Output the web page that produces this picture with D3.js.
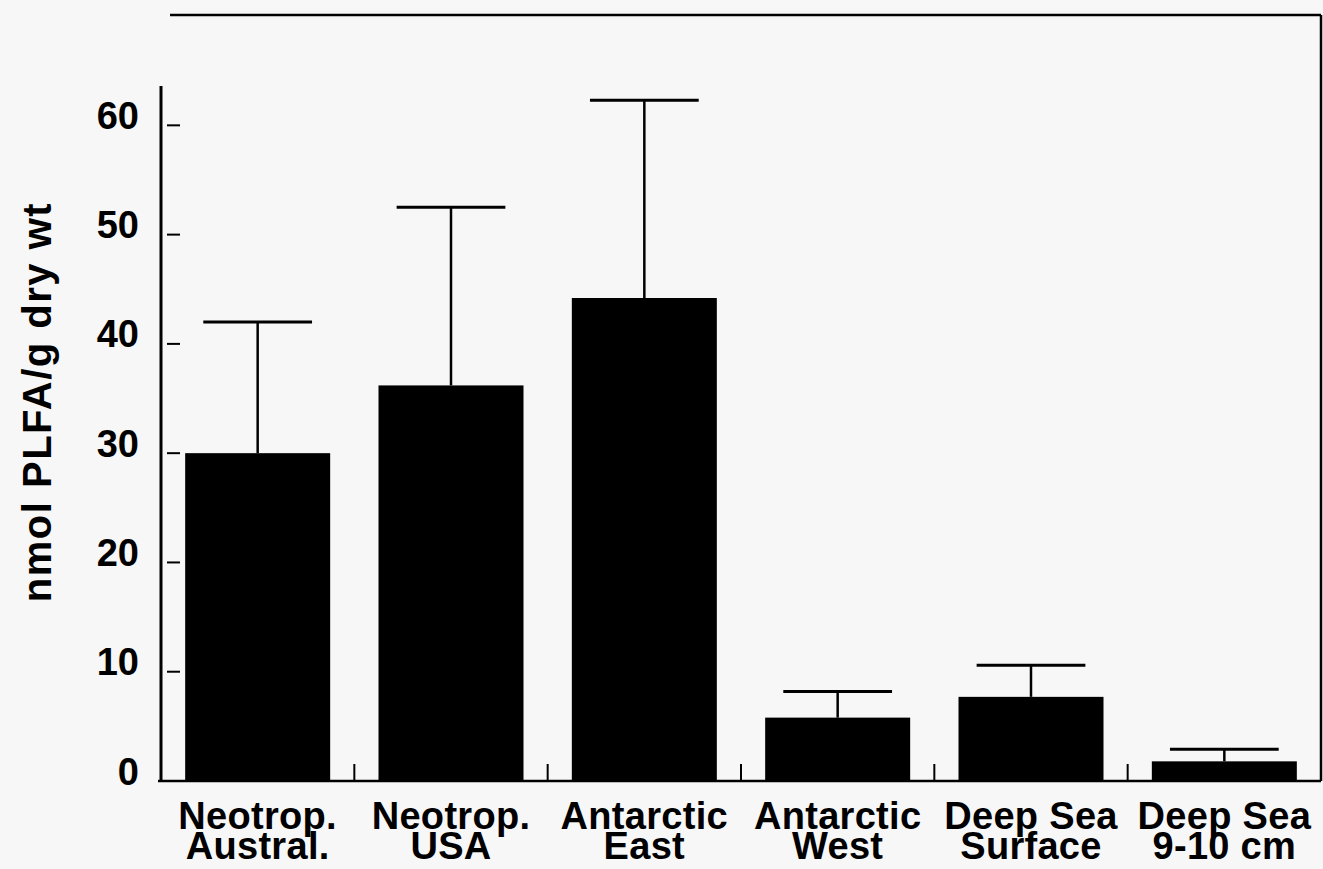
<!DOCTYPE html>
<html lang="en">
    <head>
        <meta charset="utf-8">
        <title>PLFA biomass</title>
        <script src="https://cdn.jsdelivr.net/npm/d3@7"></script>
        <style>
            body { margin: 0; background-color: #f7f7f7; }
            text { font-family: "Liberation Sans", Arial, sans-serif; font-weight: bold; fill: #000; }
        </style>
    </head>
    <body>
        <script type="text/javascript">
            // data
            var categories = ["Neotrop.|Austral.", "Neotrop.|USA", "Antarctic|East",
                              "Antarctic|West", "Deep Sea|Surface", "Deep Sea|9-10 cm"];
            var means = [30.0, 36.2, 44.2, 5.8, 7.7, 1.8];
            var upper = [42.0, 52.5, 62.3, 8.2, 10.6, 2.9];   // top of error bar
            var yTicks = [0, 10, 20, 30, 40, 50, 60];
            var yLabel = "nmol PLFA/g dry wt";

            var w = 1323, h = 869;
            var left = 161, right = 1321, bottom = 781, axisTop = 86, frameTop = 15;

            var svg = d3.select("body").append("svg").attr("width", w).attr("height", h);

            var x = d3.scaleBand()
                .domain(categories)
                .range([left, right])
                .paddingInner(0.25)
                .paddingOuter(0.125);

            var y = d3.scaleLinear()
                .domain([0, 63.6])
                .range([bottom, axisTop]);

            var data = categories.map(function(c, i){
                return {cat: c, mean: means[i], up: upper[i]};
            });

            // bars
            svg.selectAll("rect.bar")
                .data(data)
                .enter()
                .append("rect")
                .attr("class", "bar")
                .attr("x", function(d){ return x(d.cat); })
                .attr("y", function(d){ return y(d.mean); })
                .attr("width", x.bandwidth())
                .attr("height", function(d){ return y(0) - y(d.mean); })
                .attr("fill", "#000");

            // error bars: stem + cap
            var err = svg.selectAll("g.err").data(data).enter().append("g").attr("class", "err");
            err.append("line")
                .attr("x1", function(d){ return x(d.cat) + x.bandwidth()/2; })
                .attr("x2", function(d){ return x(d.cat) + x.bandwidth()/2; })
                .attr("y1", function(d){ return y(d.mean); })
                .attr("y2", function(d){ return y(d.up); })
                .attr("stroke", "#000").attr("stroke-width", 2.5);
            err.append("line")
                .attr("x1", function(d){ return x(d.cat) + x.bandwidth()*0.125; })
                .attr("x2", function(d){ return x(d.cat) + x.bandwidth()*0.875; })
                .attr("y1", function(d){ return y(d.up); })
                .attr("y2", function(d){ return y(d.up); })
                .attr("stroke", "#000").attr("stroke-width", 3);

            // frame: top line, right side, baseline
            svg.append("line").attr("x1", 170).attr("x2", right).attr("y1", frameTop).attr("y2", frameTop)
                .attr("stroke", "#000").attr("stroke-width", 2.5);
            svg.append("line").attr("x1", right).attr("x2", right).attr("y1", frameTop).attr("y2", bottom)
                .attr("stroke", "#000").attr("stroke-width", 2.5);
            svg.append("line").attr("x1", left - 3).attr("x2", right).attr("y1", bottom).attr("y2", bottom)
                .attr("stroke", "#000").attr("stroke-width", 2.5);

            // y axis, labels only; tick marks drawn inside, detached from the line
            var yAxis = d3.axisLeft(y).tickValues(yTicks).tickSize(0).tickPadding(22);
            var gy = svg.append("g").attr("transform", "translate(" + left + ",0)").call(yAxis);
            gy.select(".domain").remove();
            svg.append("line").attr("x1", left).attr("x2", left).attr("y1", axisTop).attr("y2", bottom)
                .attr("stroke", "#000").attr("stroke-width", 3);
            gy.selectAll("text")
                .attr("font-size", 38)
                .attr("font-family", "Liberation Sans, Arial, sans-serif")
                .attr("font-weight", "bold")
                .attr("dy", "0.08em");

            svg.selectAll("line.ytick")
                .data(yTicks.filter(function(v){ return v > 0; }))
                .enter()
                .append("line")
                .attr("class", "ytick")
                .attr("x1", left + 6).attr("x2", left + 19)
                .attr("y1", function(d){ return y(d); })
                .attr("y2", function(d){ return y(d); })
                .attr("stroke", "#000").attr("stroke-width", 2);

            // separator ticks between categories on the baseline
            var half = x.step() * x.paddingInner() / 2;
            svg.selectAll("line.xtick")
                .data(categories.slice(0, -1))
                .enter()
                .append("line")
                .attr("class", "xtick")
                .attr("x1", function(d){ return x(d) + x.bandwidth() + half; })
                .attr("x2", function(d){ return x(d) + x.bandwidth() + half; })
                .attr("y1", bottom).attr("y2", bottom - 17)
                .attr("stroke", "#000").attr("stroke-width", 2);

            // category labels, two tightly set lines
            var lab = svg.selectAll("text.xlab")
                .data(categories)
                .enter()
                .append("text")
                .attr("class", "xlab")
                .attr("text-anchor", "middle")
                .attr("font-size", 38)
                .attr("letter-spacing", 0.3);
            lab.append("tspan")
                .attr("x", function(d){ return x(d) + x.bandwidth()/2; })
                .attr("y", 829)
                .text(function(d){ return d.split("|")[0]; });
            lab.append("tspan")
                .attr("x", function(d){ return x(d) + x.bandwidth()/2; })
                .attr("y", 859)
                .text(function(d){ return d.split("|")[1]; });

            // y axis title
            svg.append("text")
                .attr("transform", "translate(51," + 402 + ") rotate(-90)")
                .attr("text-anchor", "middle")
                .attr("font-size", 40)
                .attr("letter-spacing", 1.5)
                .text(yLabel);
        </script>
    </body>
</html>
